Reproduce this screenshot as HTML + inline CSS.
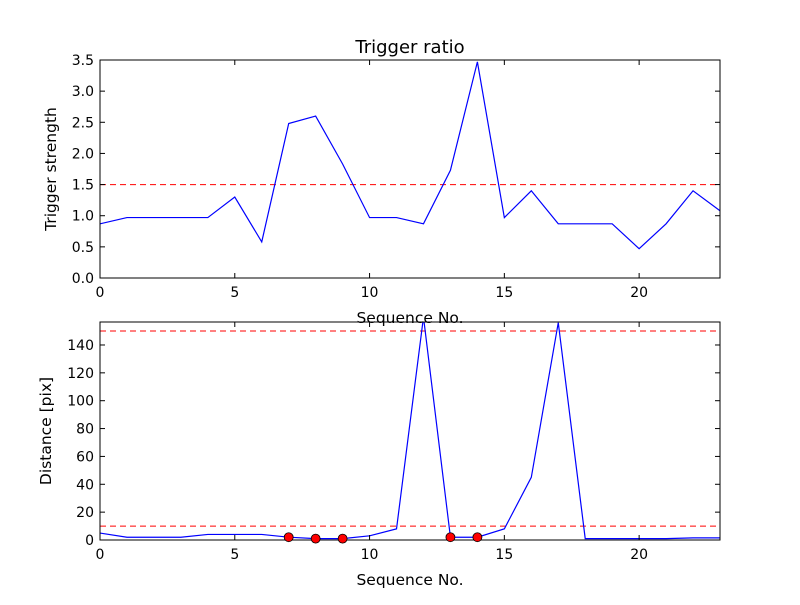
<!DOCTYPE html>
<html><head><meta charset="utf-8"><style>
body{margin:0;background:#fff;}
svg text{font-family:"DejaVu Sans","Liberation Sans",sans-serif;fill:#000;}
</style></head><body>
<svg id="chart" width="800" height="600" xmlns="http://www.w3.org/2000/svg">
<rect width="800" height="600" fill="#fff"/>
<defs>
<clipPath id="c1"><rect x="100" y="60" width="620" height="218"/></clipPath>
<clipPath id="c2"><rect x="100" y="322" width="620" height="218"/></clipPath>
</defs>
<g id="g1"></g><g id="g2"></g>
</svg>
<script>
const seq = [0,1,2,3,4,5,6,7,8,9,10,11,12,13,14,15,16,17,18,19,20,21,22,23];
const strength = [0.87,0.97,0.97,0.97,0.97,1.3,0.58,2.48,2.6,1.83,0.97,0.97,0.87,1.73,3.47,0.97,1.4,0.87,0.87,0.87,0.47,0.87,1.4,1.08];
const distance = [5,2,2,2,4,4,4,2,1,1,3,8,160,2,2,8,45,156,1,1,1,1,1.5,1.5];
const flagged = [7,8,9,13,14];
const strengthThresh = [1.5];
const distThresh = [150,10];
const xTicks = [0,5,10,15,20];
const yTicks1 = [0,0.5,1,1.5,2,2.5,3,3.5];
const yTicks1Labels = ["0.0","0.5","1.0","1.5","2.0","2.5","3.0","3.5"];
const yTicks2 = [0,20,40,60,80,100,120,140];

const NS="http://www.w3.org/2000/svg";
function mk(parent,tag,attrs,txt){const e=document.createElementNS(NS,tag);for(const k in attrs)e.setAttribute(k,attrs[k]);if(txt!==undefined)e.textContent=txt;parent.appendChild(e);return e;}
const X0=100,X1=720,xMax=23;
const sx=v=>X0+(X1-X0)*v/xMax;

function panel(g,top,yMax,vals,ticks,labels,thr,ylab,clip,title){
  const bot=top+218;
  const sy=v=>bot-218*v/yMax;
  thr.forEach(t=>{
    const l=mk(g,'line',{x1:X0,x2:X1,y1:sy(t),y2:sy(t),stroke:'#f00','stroke-width':1,'stroke-dasharray':'6,4'});
    
    
  });
  const pts=vals.map((v,i)=>sx(seq[i])+','+sy(v)).join(' ');
  const pl=mk(g,'polyline',{points:pts,fill:'none',stroke:'#00f','stroke-width':1.2,'clip-path':'url(#'+clip+')'});
  
  
  const fr=mk(g,'rect',{x:X0,y:top,width:620,height:218,fill:'none',stroke:'#000','stroke-width':1});
  
  
  xTicks.forEach(t=>{
    const x=sx(t);
    mk(g,'line',{x1:x,x2:x,y1:bot,y2:bot-5,stroke:'#000'});
    mk(g,'line',{x1:x,x2:x,y1:top,y2:top+5,stroke:'#000'});
    const tx=mk(g,'text',{x:x,y:bot+19,'text-anchor':'middle','font-size':14},String(t));
    
    
  });
  ticks.forEach((t,i)=>{
    const y=sy(t);
    mk(g,'line',{x1:X0,x2:X0+5,y1:y,y2:y,stroke:'#000'});
    mk(g,'line',{x1:X1,x2:X1-5,y1:y,y2:y,stroke:'#000'});
    const tx=mk(g,'text',{x:X0-6,y:y+5,'text-anchor':'end','font-size':14},labels[i]);
    
    
  });
  const xl=mk(g,'text',{x:410,y:bot+45,'text-anchor':'middle','font-size':15.5},'Sequence No.');
  
  
  const yl=mk(g,'text',{x:0,y:0,'text-anchor':'middle','font-size':15.5,transform:'translate('+(ylab[1])+','+(top+109)+') rotate(-90)'},ylab[0]);
  
  
  if(title){
    const ti=mk(g,'text',{x:410,y:top-7,'text-anchor':'middle','font-size':18},title);
    
    
  }
  return sy;
}
const g1=document.getElementById('g1'),g2=document.getElementById('g2');
panel(g1,60,3.5,strength,yTicks1,yTicks1Labels,strengthThresh,['Trigger strength',56],'c1','Trigger ratio');
const sy2=panel(g2,322,156.5,distance,yTicks2,yTicks2.map(String),distThresh,['Distance [pix]',51],'c2',null);
flagged.forEach(i=>{
  const c=mk(g2,'circle',{cx:sx(seq[i]),cy:sy2(distance[i]),r:4.5,fill:'#f00',stroke:'#000','stroke-width':0.8});
  
  
});
</script>
</body></html>
